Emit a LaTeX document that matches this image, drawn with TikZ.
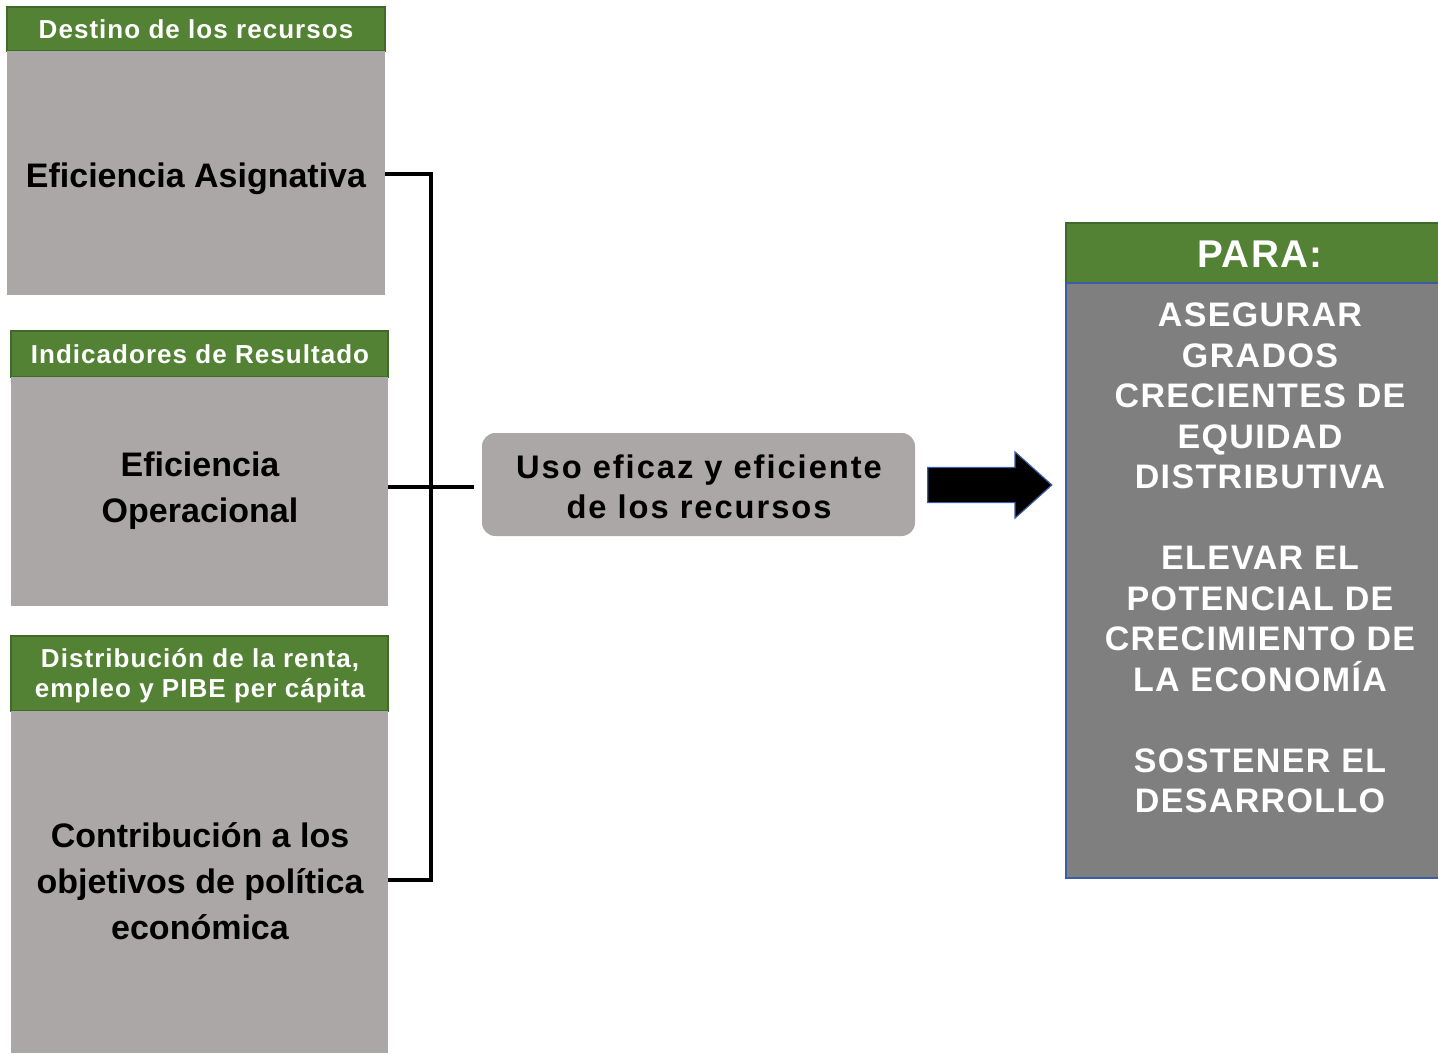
\documentclass[tikz,border=0pt]{standalone}
\usepackage{fontspec}
\setmainfont{Liberation Sans}
\newfontfamily\trk[LetterSpace=4]{Liberation Sans}
\newfontfamily\trm[LetterSpace=6]{Liberation Sans}
\newfontfamily\trr[LetterSpace=4]{Liberation Sans}
\usetikzlibrary{fit,shapes.arrows,calc}
\definecolor{hgreen}{HTML}{548235}
\definecolor{hgreenb}{HTML}{3F6A28}
\definecolor{bgray}{HTML}{ABA7A6}
\definecolor{dgray}{HTML}{7F7F7F}
\definecolor{bblue}{HTML}{3A5DA5}
\begin{document}
\begin{tikzpicture}[x=0.75pt,y=-0.75pt,
  hdrbox/.style={inner sep=0pt, fill=hgreen, draw=hgreenb, line width=1.1pt},
  hdrtext/.style={text=white, font=\trk\bfseries\fontsize{19.5}{22.5}\selectfont, align=center, inner sep=0pt},
  bodybox/.style={inner sep=0pt, fill=bgray, draw=none},
  bodytext/.style={text=black, font=\bfseries\fontsize{25.5}{34.5}\selectfont, align=center, inner sep=0pt},
  midbox/.style={inner sep=0pt, fill=bgray, draw=none, rounded corners=10pt},
  midtext/.style={text=black, font=\trm\bfseries\fontsize{24.5}{30}\selectfont, align=center, inner sep=0pt},
  conn/.style={line width=2.7pt, black},
]
\useasboundingbox (0,0) rectangle (1438,1053);

% left column
\node[hdrbox, fit={(7,7)(385,51)}] (h1) {};
\node[hdrtext] (h1t) at (196,29) {Destino de los recursos};
\node[bodybox, fit={(7,51)(385,295)}] (b1) {};
\node[bodytext] (t1) at (196,179) {Eficiencia Asignativa};

\node[hdrbox, fit={(11,331)(388,377)}] (h2) {};
\node[hdrtext] (h2t) at (200,354) {Indicadores de Resultado};
\node[bodybox, fit={(11,377)(388,606)}] (b2) {};
\node[bodytext] (t2) at (200,491) {Eficiencia\\Operacional};

\node[hdrbox, fit={(11,636)(388,711)}] (h3) {};
\node[hdrtext] (h3t) at (200,676) {Distribución de la renta,\\empleo y PIBE per cápita};
\node[bodybox, fit={(11,711)(388,1053)}] (b3) {};
\node[bodytext] (t3) at (200,881) {Contribución a los\\objetivos de política\\económica};

% middle
\node[midbox, fit={(482,433)(915,536)}] (m) {};
\node[midtext] (mt) at (699,487) {Uso eficaz y eficiente\\de los recursos};

% bracket
\coordinate (bar) at (431,174);
\draw[conn] (b1.east |- 0,174) -- (bar) -- (bar |- 0,880) -- (b3.east |- 0,880);
\draw[conn] (b2.east |- 0,487) -- ($(m.west |- 0,487)+(-8,0)$);

% right box
\node[inner sep=0pt, fill=hgreen, draw=hgreenb, line width=1.1pt, fit={(1066,223)(1448,283)}] (rh) {};
\node[text=white, font=\trr\bfseries\fontsize{29}{35}\selectfont, inner sep=0pt] (rht) at (1260,254) {PARA:};
\node[inner sep=0pt, fill=dgray, draw=bblue, line width=1.5pt, fit={(1066,283)(1448,878)}] (rb) {};
\node[text=white, font=\trr\bfseries\fontsize{25.5}{30.4}\selectfont, align=center] (rt) at (1260,558)
  {ASEGURAR\\GRADOS\\CRECIENTES DE\\EQUIDAD\\DISTRIBUTIVA\\[30.4pt]ELEVAR EL\\POTENCIAL DE\\CRECIMIENTO DE\\LA ECONOMÍA\\[30.4pt]SOSTENER EL\\DESARROLLO};

% block arrow
\node[single arrow, fill=black, draw=bblue, line width=0.9pt, inner sep=0pt,
      text height=25.5pt, text depth=0pt, text width=0pt,
      single arrow head extend=11.6pt, single arrow tip angle=84,
      minimum height=93pt] (arr) at (980,485) {};
\end{tikzpicture}
\end{document}
